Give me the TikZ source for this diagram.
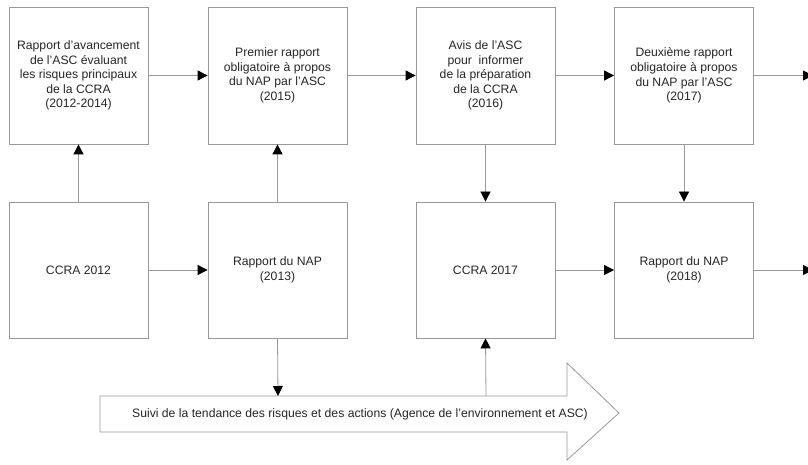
\documentclass[tikz,border=0pt]{standalone}
\usepackage{fontspec}
\setmainfont{Liberation Sans}
\usetikzlibrary{arrows.meta}
\begin{document}
\begin{tikzpicture}[x=1pt,y=-1pt,
  box/.style={draw=black!40, line width=0.8pt, minimum width=139pt, minimum height=137pt,
    align=center, inner sep=0pt, font=\fontsize{12.2}{14.6}\selectfont, text=black!85},
  conn/.style={draw=black!40, line width=0.8pt, -{Triangle[length=10pt,width=10pt,color=black]}}
]
\useasboundingbox (0,0) rectangle (808,465);
% top row
\node[box] (a1) at (78.5,75.5) {Rapport d’avancement\\de l’ASC évaluant\\les risques principaux\\de la CCRA\\(2012-2014)};
\node[box] (a2) at (277.5,75.5) {Premier rapport\\obligatoire à propos\\du NAP par l’ASC\\(2015)};
\node[box] (a3) at (485.5,75.5) {Avis de l’ASC\\pour \ informer\\de la préparation\\de la CCRA\\(2016)};
\node[box] (a4) at (684,75.5) {Deuxième rapport\\obligatoire à propos\\du NAP par l’ASC\\(2017)};
% bottom row
\node[box,minimum height=136pt] (b1) at (78.5,270) {CCRA 2012};
\node[box,minimum height=136pt] (b2) at (277.5,270) {Rapport du NAP\\(2013)};
\node[box,minimum height=136pt] (b3) at (485.5,270) {CCRA 2017};
\node[box,minimum height=136pt] (b4) at (684,270) {Rapport du NAP\\(2018)};
% big arrow
\draw[draw=black!40, line width=0.8pt, fill=white]
  (100,396) -- (567,396) -- (567,363) -- (619,413) -- (567,460) -- (567,432) -- (100,432) -- cycle;
\node[font=\fontsize{12.2}{14.6}\selectfont, text=black!85] (tr) at (360,414)
  {Suivi de la tendance des risques et des actions (Agence de l’environnement et ASC)};
\coordinate (tin) at (278,396);
\coordinate (tout) at (486,396);
\coordinate (e1) at (813,75.5);
\coordinate (e2) at (813,270);
% connectors
\draw[conn] (a1) -- (a2);
\draw[conn] (a2) -- (a3);
\draw[conn] (a3) -- (a4);
\draw[conn] (a4.east) -- (e1);
\draw[conn] (b1) -- (b2);
\draw[conn] (b3) -- (b4);
\draw[conn] (b4.east) -- (e2);
\draw[conn] (b1) -- (a1);
\draw[conn] (b2) -- (a2);
\draw[conn] (a3) -- (b3);
\draw[conn] (a4) -- (b4);
\draw[conn] (b2.south) -- (tin);
\draw[conn] (tout) -- (b3.south);
\end{tikzpicture}
\end{document}
